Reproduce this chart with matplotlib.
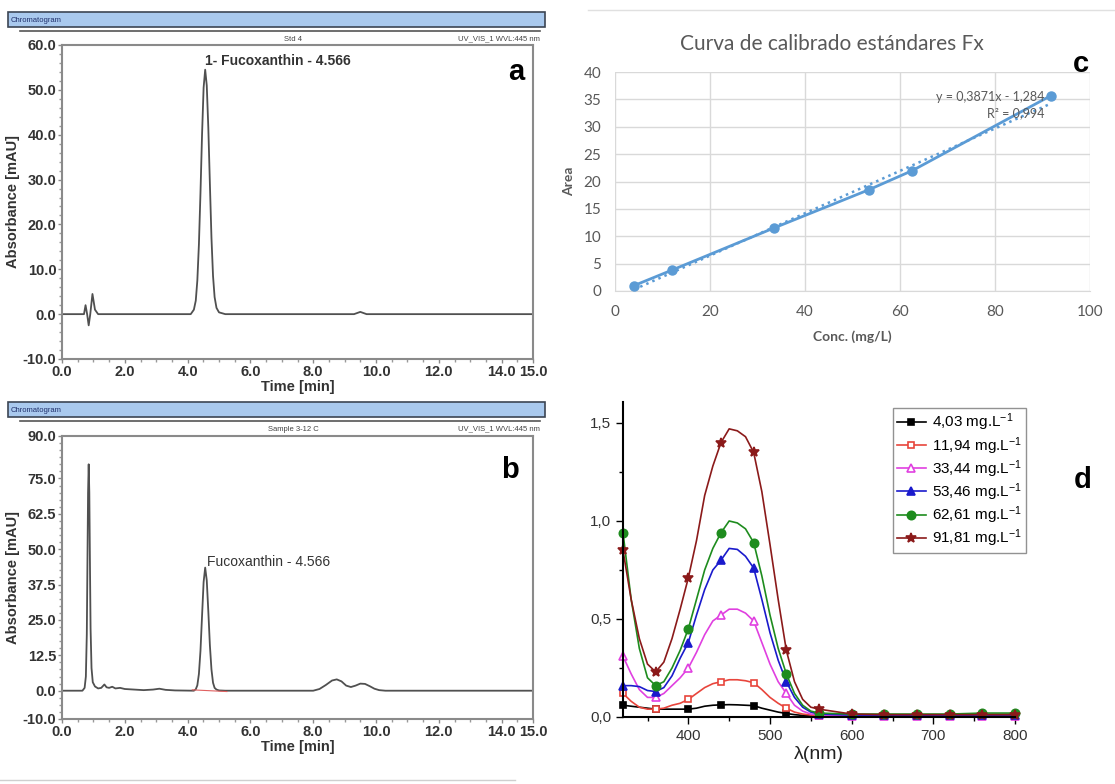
import numpy as np
import matplotlib
matplotlib.use("Agg")
import matplotlib.pyplot as plt
from matplotlib.patches import Rectangle
from matplotlib.ticker import FixedLocator, MultipleLocator, FuncFormatter

plt.rcParams['font.family'] = ['Liberation Sans', 'DejaVu Sans']
plt.rcParams['mathtext.fontset'] = 'custom'
plt.rcParams['mathtext.rm'] = 'Liberation Sans'
plt.rcParams['mathtext.it'] = 'Liberation Sans'

# ---- panel a: standard chromatogram (Std 4) ----
time_a = [0.0, 0.70, 0.75, 0.80, 0.85, 0.90, 0.97, 1.05, 1.15,
          4.10, 4.20, 4.26, 4.31, 4.36, 4.41, 4.46, 4.51, 4.56, 4.61,
          4.66, 4.71, 4.76, 4.81, 4.86, 4.92, 5.00, 5.20,
          9.30, 9.50, 9.70, 15.0]
abs_a = [0.0, 0.0, 2.0, 0.0, -2.5, 0.0, 4.5, 1.0, 0.0,
         0.0, 1.0, 3.0, 7.5, 15.5, 27.0, 40.0, 50.5, 54.5, 51.0,
         41.5, 29.0, 17.0, 8.5, 3.8, 1.4, 0.4, 0.0,
         0.0, 0.5, 0.0, 0.0]
yticks_a = [-10.0, 0.0, 10.0, 20.0, 30.0, 40.0, 50.0, 60.0]

# ---- panel b: sample chromatogram (Sample 3-12 C) ----
time_b = [0.0, 0.65, 0.72, 0.76, 0.79, 0.81, 0.83, 0.85, 0.87, 0.89,
          0.91, 0.94, 0.98, 1.05, 1.15, 1.25, 1.35, 1.42, 1.50, 1.60,
          1.70, 1.85, 2.00, 2.30, 2.60, 2.90, 3.10, 3.30, 3.60, 4.20,
          4.26, 4.31, 4.36, 4.41, 4.46, 4.51, 4.56, 4.61, 4.66, 4.71,
          4.76, 4.81, 4.86, 4.92, 5.00, 5.20, 8.00, 8.20, 8.40, 8.60,
          8.75, 8.90, 9.05, 9.20, 9.35, 9.50, 9.65, 9.80, 9.95, 10.10,
          10.30, 15.0]
abs_b = [0.0, 0.0, 1.0, 5.0, 20.0, 45.0, 70.0, 80.0, 70.0, 45.0,
         22.0, 8.0, 3.0, 1.5, 0.8, 1.0, 2.2, 1.2, 1.0, 1.4,
         0.8, 1.0, 0.6, 0.4, 0.2, 0.4, 0.7, 0.3, 0.1, 0.0,
         0.5, 1.9, 5.9, 14.1, 26.4, 38.4, 43.5, 39.0, 28.0, 16.0,
         7.5, 2.8, 1.0, 0.4, 0.1, 0.0, 0.0, 0.6, 2.0, 3.6,
         4.0, 3.3, 1.8, 1.3, 1.8, 2.5, 2.4, 1.6, 0.7, 0.2,
         0.0, 0.0]
baseline_b_t = [4.15, 5.25]
baseline_b_y = [0.3, -0.3]
yticks_b = [-10.0, 0.0, 12.5, 25.0, 37.5, 50.0, 62.5, 75.0, 90.0]
xticks_ab = [0.0, 2.0, 4.0, 6.0, 8.0, 10.0, 12.0, 14.0, 15.0]

# ---- panel c: calibration curve ----
conc = [4.03, 11.94, 33.44, 53.46, 62.61, 91.81]
area = [1.0, 3.8, 11.5, 18.5, 22.0, 35.7]
slope = 0.3871
intercept = -1.284

# ---- panel d: UV-Vis spectra ----
wl = [320, 330, 340, 350, 360, 370, 380, 390, 400, 410, 420, 430, 440,
      450, 460, 470, 480, 490, 500, 510, 520, 530, 540, 550, 560,
      600, 640, 680, 720, 760, 800]
marker_wl = [320, 360, 400, 440, 480, 520, 560, 600, 640, 680, 720, 760, 800]
spec_403 = [0.06, 0.055, 0.05, 0.045, 0.04, 0.04, 0.04, 0.04, 0.04, 0.045,
            0.055, 0.06, 0.062, 0.063, 0.062, 0.06, 0.058, 0.045, 0.035, 0.025,
            0.018, 0.012, 0.008, 0.005, 0.004,
            0.003, 0.003, 0.003, 0.003, 0.003, 0.003]
spec_1194 = [0.12, 0.08, 0.05, 0.04, 0.04, 0.045, 0.06, 0.07, 0.09, 0.12,
             0.15, 0.17, 0.18, 0.19, 0.19, 0.185, 0.175, 0.14, 0.10, 0.07,
             0.045, 0.025, 0.015, 0.01, 0.006,
             0.005, 0.005, 0.005, 0.005, 0.005, 0.005]
spec_3344 = [0.31, 0.22, 0.14, 0.10, 0.10, 0.12, 0.16, 0.20, 0.25, 0.33,
             0.42, 0.49, 0.52, 0.55, 0.55, 0.53, 0.49, 0.38, 0.27, 0.18,
             0.12, 0.06, 0.03, 0.015, 0.01,
             0.005, 0.005, 0.005, 0.005, 0.005, 0.005]
spec_5346 = [0.16, 0.16, 0.155, 0.135, 0.13, 0.15, 0.21, 0.30, 0.38, 0.52,
             0.65, 0.75, 0.80, 0.86, 0.855, 0.82, 0.76, 0.60, 0.43, 0.29,
             0.18, 0.10, 0.05, 0.025, 0.015,
             0.01, 0.01, 0.01, 0.01, 0.01, 0.01]
spec_6261 = [0.94, 0.60, 0.35, 0.20, 0.16, 0.18, 0.25, 0.34, 0.45, 0.60,
             0.75, 0.86, 0.94, 1.00, 0.99, 0.96, 0.89, 0.72, 0.52, 0.35,
             0.22, 0.12, 0.06, 0.03, 0.02,
             0.015, 0.015, 0.015, 0.015, 0.02, 0.02]
spec_9181 = [0.85, 0.60, 0.40, 0.27, 0.23, 0.28, 0.40, 0.55, 0.71, 0.90,
             1.13, 1.28, 1.40, 1.47, 1.46, 1.43, 1.35, 1.15, 0.88, 0.60,
             0.34, 0.18, 0.09, 0.05, 0.04,
             0.015, 0.012, 0.012, 0.012, 0.012, 0.012]
spec_labels = ['4,03 mg.L$^{-1}$', '11,94 mg.L$^{-1}$', '33,44 mg.L$^{-1}$',
               '53,46 mg.L$^{-1}$', '62,61 mg.L$^{-1}$', '91,81 mg.L$^{-1}$']

W, H = 1115, 784
fig = plt.figure(figsize=(W / 100, H / 100), dpi=100)


def box(x0, y0, x1, y1):
    # pixel box (top-left origin) -> figure fraction rect
    return [x0 / W, 1 - y1 / H, (x1 - x0) / W, (y1 - y0) / H]


# background layer for frames and headers
bg = fig.add_axes([0, 0, 1, 1], zorder=-5)
bg.set_xlim(0, W)
bg.set_ylim(H, 0)
bg.axis('off')


def header(y, sub):
    bg.add_patch(Rectangle((8, y), 537, 15, facecolor='#a9c9ee',
                           edgecolor='#3c4654', lw=1.2))
    bg.text(11, y + 8, 'Chromatogram', fontsize=5.5, color='#1f2f6b', va='center')
    bg.plot([20, 540], [y + 19, y + 19], color='#555555', lw=1.2)
    bg.text(293, y + 27, sub, fontsize=5.5, color='#444444', ha='center', va='center')
    bg.text(540, y + 27, 'UV_VIS_1 WVL:445 nm', fontsize=5.5, color='#444444',
            ha='right', va='center')


header(12, 'Std 4')
header(402, 'Sample 3-12 C')
bg.plot([0, 515], [780, 780], color='#cfcfcf', lw=1)
bg.plot([588, 1115], [10, 10], color='#e0e0e0', lw=1)


def letter(x, y, s):
    fig.text(x / W, 1 - y / H, s, fontsize=21, fontweight='bold',
             ha='center', va='center', zorder=10)


def chrom_axes(rect, t, a, ylim, yticks):
    ax = fig.add_axes(rect)
    ax.plot(t, a, color='#505050', lw=1.3)
    ax.set_xlim(0, 15)
    ax.set_ylim(*ylim)
    ax.xaxis.set_major_locator(FixedLocator(xticks_ab))
    ax.yaxis.set_major_locator(FixedLocator(yticks))
    ax.xaxis.set_minor_locator(MultipleLocator(0.5))
    ax.yaxis.set_minor_locator(MultipleLocator(2.5 if ylim[1] > 80 else 2.0))
    ax.xaxis.set_major_formatter(FuncFormatter(lambda v, p: f'{v:.1f}'))
    ax.yaxis.set_major_formatter(FuncFormatter(lambda v, p: f'{v:.1f}'))
    for s in ax.spines.values():
        s.set_color('#8a8a8a')
        s.set_linewidth(1.5)
    ax.tick_params(which='major', length=3, width=1, color='#8a8a8a', pad=1,
                   labelsize=10.5, labelcolor='#333333')
    ax.tick_params(which='minor', length=2, width=1, color='#9a9a9a')
    for lab in ax.get_xticklabels() + ax.get_yticklabels():
        lab.set_fontweight('bold')
    ax.set_xlabel('Time [min]', fontsize=10.5, fontweight='bold', color='#333333', labelpad=1)
    ax.set_ylabel('Absorbance [mAU]', fontsize=10.5, fontweight='bold', color='#333333')
    ax.yaxis.set_label_coords(-0.089, 0.5)
    return ax


ax_a = chrom_axes(box(62, 45, 533, 359), time_a, abs_a, (-10, 60), yticks_a)
ax_a.text(4.56, 56.5, '1- Fucoxanthin - 4.566', fontsize=10, fontweight='bold',
          color='#333333', va='center', ha='left')

ax_b = chrom_axes(box(62, 436, 533, 719), time_b, abs_b, (-10, 90), yticks_b)
ax_b.plot(baseline_b_t, baseline_b_y, color='#e06060', lw=0.8)
ax_b.text(4.62, 45.5, 'Fucoxanthin - 4.566', fontsize=10, color='#333333',
          va='center', ha='left')

# ---- panel c ----
blue = '#5b9bd5'
cfont = ['Lato', 'DejaVu Sans']
ax_c = fig.add_axes(box(615, 72, 1090, 291))
ax_c.plot(conc, area, color=blue, lw=2, marker='o', markersize=6.5, zorder=3)
trend_x = np.array([conc[0], conc[-1]])
ax_c.plot(trend_x, slope * trend_x + intercept, color=blue, lw=1.8, ls=':', zorder=2)
ax_c.set_xlim(0, 100)
ax_c.set_ylim(0, 40)
ax_c.xaxis.set_major_locator(MultipleLocator(20))
ax_c.yaxis.set_major_locator(MultipleLocator(5))
ax_c.grid(True, color='#d9d9d9', lw=1)
ax_c.set_axisbelow(True)
for k, s in ax_c.spines.items():
    s.set_visible(k == 'bottom')
ax_c.spines['bottom'].set_color('#d9d9d9')
ax_c.tick_params(length=0, labelsize=11, labelcolor='#595959', pad=10)
for lab in ax_c.get_xticklabels() + ax_c.get_yticklabels():
    lab.set_family(cfont)
ax_c.set_title('Curva de calibrado estándares Fx', fontsize=15, color='#595959',
               family=cfont, pad=16, x=0.457)
ax_c.set_xlabel('Conc. (mg/L)', fontsize=10, fontweight='bold', color='#595959',
                family=cfont, labelpad=8)
ax_c.set_ylabel('Area', fontsize=10, fontweight='bold', color='#595959',
                family=cfont, labelpad=6)
ax_c.text(90.5, 35.4, f'y = {slope:.4f}x - {abs(intercept):.3f}'.replace('.', ','),
          fontsize=9, color='#595959', ha='right', va='center', family=cfont)
ax_c.text(90.5, 32.4, 'R² = 0,994', fontsize=9, color='#595959', ha='right', va='center',
          family=cfont)

# ---- panel d ----
ax_d = fig.add_axes(box(623, 402, 1015, 717))
styles = [
    (spec_403, '#000000', 's', '#000000', 5),
    (spec_1194, '#e8453c', 's', 'white', 5),
    (spec_3344, '#e040e0', '^', 'white', 6),
    (spec_5346, '#1a1acc', '^', '#1a1acc', 6),
    (spec_6261, '#1e8c1e', 'o', '#1e8c1e', 6),
    (spec_9181, '#8b1a1a', '*', '#8b1a1a', 7.5),
]
mark_idx = [wl.index(w) for w in marker_wl]
for (spec, col, mk, mfc, ms), lab in zip(styles, spec_labels):
    ax_d.plot(wl, spec, color=col, lw=1.2, marker=mk, markersize=ms,
              markerfacecolor=mfc, markeredgecolor=col, markeredgewidth=1.2,
              markevery=mark_idx, label=lab, clip_on=False)
ax_d.set_xlim(320, 800)
ax_d.set_ylim(0, 1.607)
ax_d.xaxis.set_major_locator(FixedLocator([400, 500, 600, 700, 800]))
ax_d.xaxis.set_minor_locator(MultipleLocator(50))
ax_d.yaxis.set_major_locator(MultipleLocator(0.5))
ax_d.yaxis.set_minor_locator(MultipleLocator(0.25))
ax_d.yaxis.set_major_formatter(FuncFormatter(lambda v, p: f'{v:.1f}'.replace('.', ',')))
ax_d.spines['top'].set_visible(False)
ax_d.spines['right'].set_visible(False)
ax_d.spines['left'].set_linewidth(1.5)
ax_d.spines['bottom'].set_linewidth(1.5)
ax_d.tick_params(which='major', length=5, width=1, labelsize=11, labelcolor='#333333')
ax_d.tick_params(which='minor', length=3, width=1)
ax_d.set_xlabel('λ(nm)', fontsize=14, color='#222222', labelpad=2)
leg = ax_d.legend(loc='upper left', bbox_to_anchor=(893 / W, 1 - 408 / H),
                  bbox_transform=fig.transFigure, fontsize=11, frameon=True,
                  fancybox=False, edgecolor='#777777', borderpad=0.25,
                  labelspacing=0.1, handlelength=1.9, handletextpad=0.4,
                  borderaxespad=0)
leg.get_frame().set_linewidth(1)

letter(516, 72, 'a')
letter(510, 470, 'b')
letter(1081, 64, 'c')
letter(1083, 480, 'd')

fig.savefig('out.png', dpi=100)
